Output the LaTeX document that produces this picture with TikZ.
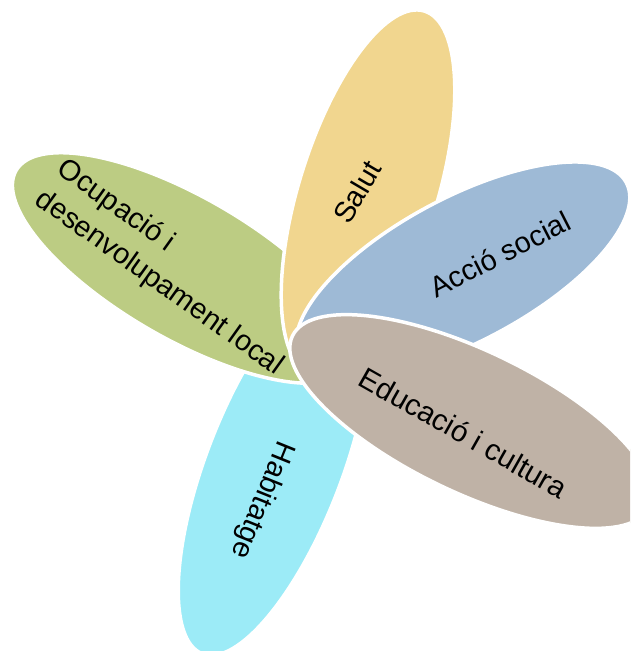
\documentclass[tikz,border=0pt]{standalone}
\usepackage{fontspec}
\setmainfont{Liberation Sans}
\definecolor{cSalut}{HTML}{F1D68F}
\definecolor{cAccio}{HTML}{9EBAD6}
\definecolor{cEduc}{HTML}{BFB2A6}
\definecolor{cHab}{HTML}{9CEBF7}
\definecolor{cOcup}{HTML}{BCCC83}
\begin{document}
\begin{tikzpicture}[x=1pt,y=-1pt,
  petal/.style={draw=white, line width=3.5pt},
  lbl/.style={font=\fontsize{29}{37.5}\selectfont, text=black, inner sep=0pt}]
\useasboundingbox (0,0) rectangle (630,651);
\begin{scope}
\clip (0,0) rectangle (630,651);
\draw[petal, fill=cHab, rotate around={69:(274,467)}] (274,467) ellipse (200 and 68);
\draw[petal, fill=cOcup, rotate around={-30:(185,268)}] (185,268) ellipse (195 and 71);
\draw[petal, fill=cSalut, rotate around={72.7:(368,192.5)}] (368,192.5) ellipse (190 and 69);
\draw[petal, fill=cAccio, rotate around={28:(463,269.6)}] (463,269.6) ellipse (185 and 72);
\draw[petal, fill=cEduc, rotate around={-25.6:(471,421.5)}] (471,421.5) ellipse (198 and 71);
\end{scope}
\node[lbl, rotate=59.5] (salut) at (357,192) {Salut};
\node[lbl, rotate=27] (accio) at (500,254) {Acció social};
\node[lbl, rotate=-29.5, font=\fontsize{29.6}{37.5}\selectfont] (educ) at (463.5,432.5) {Educació i cultura};
\node[lbl, rotate=-112] (hab) at (262,500) {Habitatge};
\node[lbl, rotate=-35.5, align=left] (ocup) at (170,268) {Ocupació i\\desenvolupament local};
\end{tikzpicture}
\end{document}
